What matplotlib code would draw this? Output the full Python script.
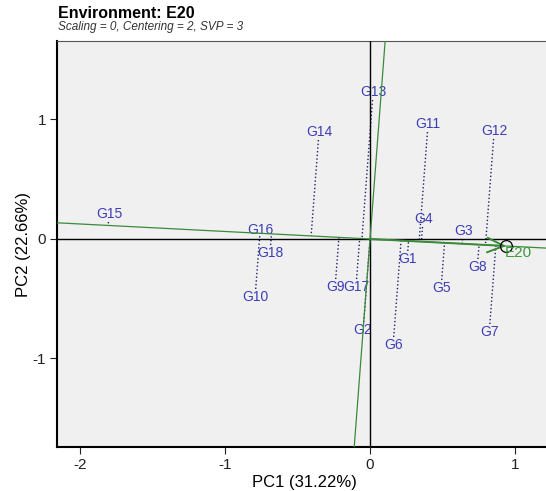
import numpy as np
import matplotlib
matplotlib.use("Agg")
import matplotlib.pyplot as plt

plt.rcParams["font.family"] = ["Liberation Sans", "DejaVu Sans"]

# ---- data ----
genotypes = ["G1", "G2", "G3", "G4", "G5", "G6", "G7", "G8", "G9",
             "G10", "G11", "G12", "G13", "G14", "G15", "G16", "G17", "G18"]
pc1 = [0.256, -0.048, 0.642, 0.366, 0.490, 0.159, 0.822, 0.740, -0.241,
       -0.793, 0.400, 0.856, 0.021, -0.352, -1.800, -0.759, -0.097, -0.690]
pc2 = [-0.167, -0.762, 0.067, 0.167, -0.410, -0.887, -0.778, -0.234, -0.402,
       -0.485, 0.962, 0.904, 1.230, 0.895, 0.209, 0.075, -0.402, -0.117]
env_name = "E20"
env_xy = [0.940, -0.059]

xticks = [-2, -1, 0, 1]
yticks = [-1, 0, 1]

################### style ######################
GENO_COLOR = "#3d3db5"
DOT_COLOR = "#1e1e6a"
GREEN = "#3a8a3a"
BG = "#f0f0f0"
GAP_PX = 8  # ラベルと点線の隙間
##################################################

fig = plt.figure(figsize=(5.46, 4.91), dpi=100)
ax = fig.add_axes([0.1044, 0.0896, 0.9048, 0.8269])
ax.set_facecolor(BG)
ax.set_xlim(-2.159, 1.248)
ax.set_ylim(-1.741, 1.657)

e = np.array(env_xy)
g = np.column_stack([pc1, pc2])

# 投影の点線 (ラベルの手前で止める)
to_px = ax.transData.transform
to_data = ax.transData.inverted().transform
for (gx, gy) in g:
    t = (gx * e[0] + gy * e[1]) / (e @ e)
    p0 = to_px((gx, gy))
    p1 = to_px((t * e[0], t * e[1]))
    d = p1 - p0
    n = np.hypot(*d)
    if n <= GAP_PX:
        continue
    start = to_data(p0 + d / n * GAP_PX)
    ax.plot([start[0], t * e[0]], [start[1], t * e[1]], linestyle=":",
            color=DOT_COLOR, linewidth=1.0, zorder=1)

for name, gx, gy in zip(genotypes, pc1, pc2):
    ax.text(gx, gy, name, color=GENO_COLOR, fontsize=10, ha="center",
            va="center", zorder=2)

# 原点を通る軸
ax.axhline(0, color="black", linewidth=1.0, zorder=3)
ax.axvline(0, color="black", linewidth=1.0, zorder=3)

# environment axis + perpendicular
big = 20
ax.plot([-big * e[0], big * e[0]], [-big * e[1], big * e[1]],
        color=GREEN, linewidth=0.9, zorder=4)
ax.plot([big * e[1], -big * e[1]], [-big * e[0], big * e[0]],
        color=GREEN, linewidth=0.9, zorder=4)

ax.annotate("", xy=(e[0], e[1]), xytext=(0, 0),
            arrowprops=dict(arrowstyle="->,head_length=0.8,head_width=0.35",
                            color=GREEN, lw=1.4, mutation_scale=15,
                            shrinkA=0, shrinkB=0),
            zorder=5)
ax.plot(e[0], e[1], marker="o", markersize=8.5, markerfacecolor="none",
        markeredgecolor="black", markeredgewidth=0.9, zorder=6)
ax.annotate(env_name, xy=(e[0], e[1]), xytext=(12, -7),
            textcoords="offset pixels", color="#3c9a3c", fontsize=11,
            ha="center", va="center", zorder=6)

ax.set_xticks(xticks)
ax.set_yticks(yticks)
ax.set_xticklabels([str(v) for v in xticks])
ax.set_yticklabels([str(v) for v in yticks])
ax.tick_params(axis="both", direction="out", length=5, width=0.8,
               labelsize=11, colors="#222222", pad=3)
ax.set_xlabel("PC1 (31.22%)", fontsize=12, labelpad=2)
ax.set_ylabel("PC2 (22.66%)", fontsize=12, labelpad=1)

for side in ["left", "bottom"]:
    ax.spines[side].set_linewidth(1.5)
    ax.spines[side].set_color("black")
ax.spines["top"].set_linewidth(0.8)
ax.spines["top"].set_color("#555555")

fig.text(0.106, 0.972, "Environment: E20", fontsize=11.5, fontweight="bold",
         ha="left", va="center")
fig.text(0.106, 0.944, "Scaling = 0, Centering = 2, SVP = 3", fontsize=8.5,
         style="italic", ha="left", va="center", color="#333333")

fig.savefig("out.png", dpi=100)
